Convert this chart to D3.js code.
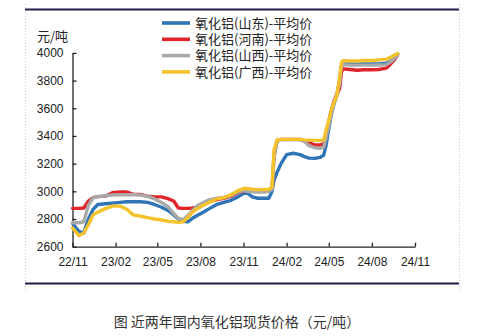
<!DOCTYPE html>
<html>
<head>
<meta charset="utf-8">
<script src="https://cdn.jsdelivr.net/npm/d3@7"></script>
<style>
  html, body { margin: 0; padding: 0; background: #fff; }
  svg { display: block; }
</style>
</head>
<body>
<svg id="chart" width="485" height="336"></svg>
<script>
// Sampled observation dates
const dates = [
  "2022-11-01","2022-11-15","2022-11-25","2022-12-05","2022-12-15","2022-12-25",
  "2023-01-10","2023-01-25","2023-02-10","2023-02-25","2023-03-10","2023-03-25",
  "2023-04-10","2023-04-25","2023-05-10","2023-05-25","2023-06-05","2023-06-15",
  "2023-06-25","2023-07-05","2023-07-15","2023-07-25","2023-08-05","2023-08-20",
  "2023-09-05","2023-09-20","2023-10-05","2023-10-20","2023-11-01","2023-11-10",
  "2023-11-20","2023-12-01","2023-12-15","2023-12-25","2024-01-01","2024-01-05",
  "2024-01-12","2024-01-20","2024-02-01","2024-02-15","2024-03-01","2024-03-10",
  "2024-03-20","2024-04-01","2024-04-12","2024-04-20","2024-04-25","2024-05-01",
  "2024-05-06","2024-05-12","2024-05-18","2024-05-24","2024-05-28","2024-06-01",
  "2024-06-15","2024-07-01","2024-07-15","2024-08-01","2024-08-15","2024-09-01",
  "2024-09-10","2024-09-18","2024-09-25"
];

// Average alumina spot price by region (元/吨)
const shandong = [
  2769,2710,2700,2800,2870,2905,2910,2915,2920,2925,
  2925,2925,2920,2905,2885,2860,2830,2800,2783,2780,
  2805,2825,2845,2875,2905,2920,2935,2960,2985,2985,
  2960,2950,2950,2950,3000,3080,3140,3200,3265,3275,
  3265,3250,3240,3238,3245,3260,3330,3450,3550,3630,
  3690,3800,3900,3920,3920,3920,3920,3920,3920,3925,
  3940,3965,3990
];
const henan = [
  2877,2877,2880,2930,2955,2962,2965,2990,2995,2995,
  2980,2978,2965,2960,2960,2945,2930,2880,2877,2877,
  2880,2885,2905,2925,2940,2950,2965,2990,3004,3005,
  3000,3000,3000,3005,3020,3250,3370,3375,3375,3375,
  3375,3365,3350,3335,3335,3340,3400,3500,3580,3650,
  3700,3740,3860,3885,3880,3875,3878,3878,3880,3890,
  3920,3950,3990
];
const shanxi = [
  2773,2773,2780,2900,2955,2962,2968,2973,2975,2975,
  2975,2973,2965,2945,2920,2885,2840,2805,2795,2825,
  2860,2895,2915,2938,2950,2955,2970,2995,3005,3000,
  2997,2995,2995,3000,3015,3250,3368,3372,3372,3372,
  3372,3360,3330,3315,3310,3320,3380,3470,3560,3640,
  3690,3780,3900,3915,3912,3912,3912,3912,3913,3915,
  3935,3960,3990
];
const guangxi = [
  2735,2680,2700,2760,2830,2850,2875,2893,2893,2870,
  2830,2822,2810,2800,2793,2783,2780,2776,2780,2810,
  2850,2875,2895,2922,2945,2955,2975,3005,3020,3020,
  3015,3012,3012,3015,3030,3300,3372,3375,3375,3375,
  3375,3372,3370,3368,3368,3370,3440,3510,3580,3640,
  3690,3820,3930,3945,3942,3942,3945,3945,3950,3955,
  3968,3985,3995
];

const seriesNames = ["氧化铝(山东)-平均价","氧化铝(河南)-平均价","氧化铝(山西)-平均价","氧化铝(广西)-平均价"];
const seriesColors = ["#2f75b5","#e0242a","#a9a9a9","#f4c22b"];
const seriesValues = [shandong, henan, shanxi, guangxi];

const xTicks = ["2022-11-01","2023-02-01","2023-05-01","2023-08-01","2023-11-01","2024-02-01","2024-05-01","2024-08-01","2024-11-01"];
const yTicks = [2600, 2800, 3000, 3200, 3400, 3600, 3800, 4000];
const unitLabel = "元/吨";
const caption = "图 近两年国内氧化铝现货价格（元/吨）";

const parse = d3.timeParse("%Y-%m-%d");
const svg = d3.select("#chart");
const font = "'Liberation Sans', Arial, sans-serif";
const cjk = "'Noto Sans CJK SC', sans-serif";

// Frame: dotted side borders and dark top/bottom rules
svg.selectAll("line.side").data([25.5, 459.5]).join("line")
  .attr("x1", d => d).attr("x2", d => d).attr("y1", 4).attr("y2", 290)
  .attr("stroke", "#c8c8c8").attr("stroke-width", 1).attr("stroke-dasharray", "1,2");
svg.selectAll("line.rule").data([9.5, 283.5]).join("line")
  .attr("x1", 25).attr("x2", 459).attr("y1", d => d).attr("y2", d => d)
  .attr("stroke", "#1f1f4d").attr("stroke-width", 2.2);

const x = d3.scaleTime()
  .domain([parse("2022-11-01"), parse("2024-11-01")])
  .range([72.5, 415]);
const y = d3.scaleLinear().domain([2600, 4000]).range([246.7, 52.9]);

// Axes with inward ticks
const yAxis = svg.append("g").attr("transform", "translate(72.5,0)")
  .call(d3.axisLeft(y).tickValues(yTicks).tickSizeInner(-4).tickSizeOuter(0).tickPadding(9).tickFormat(d3.format("d")));
const xAxis = svg.append("g").attr("transform", "translate(0,246.7)")
  .call(d3.axisBottom(x).tickValues(xTicks.map(parse)).tickSizeInner(-4).tickSizeOuter(0).tickPadding(11).tickFormat(d3.timeFormat("%y/%m")));
[yAxis, xAxis].forEach(g => {
  g.select(".domain").attr("stroke", "#222").attr("stroke-width", 1.3);
  g.selectAll(".tick line").attr("stroke", "#222").attr("stroke-width", 1.3);
  g.selectAll(".tick text").attr("fill", "#222").style("font-family", font).style("font-size", "12px");
});

svg.append("text").attr("x", 37).attr("y", 41)
  .style("font-family", cjk).style("font-size", "13px").attr("fill", "#222")
  .text(unitLabel);

// Price lines
const line = d3.line()
  .x((d, i) => x(parse(dates[i])))
  .y(d => y(d));
svg.selectAll("path.series").data(seriesValues).join("path")
  .attr("class", "series")
  .attr("d", line)
  .attr("fill", "none")
  .attr("stroke", (d, i) => seriesColors[i])
  .attr("stroke-width", 3.4)
  .attr("stroke-linejoin", "round")
  .attr("stroke-linecap", "round");

// Legend: swatches plus one multi-line text block
const legendX = 162, legendY = 23, legendStep = 16.3;
svg.selectAll("line.swatch").data(seriesNames).join("line")
  .attr("class", "swatch")
  .attr("x1", legendX).attr("x2", legendX + 28)
  .attr("y1", (d, i) => legendY + i * legendStep).attr("y2", (d, i) => legendY + i * legendStep)
  .attr("stroke", (d, i) => seriesColors[i]).attr("stroke-width", 3.6);
svg.append("text")
  .style("font-family", cjk).style("font-size", "13px").attr("fill", "#222")
  .selectAll("tspan").data(seriesNames).join("tspan")
  .attr("x", legendX + 33)
  .attr("y", (d, i) => legendY + 4.6 + i * legendStep)
  .text(d => d);

svg.append("text").attr("x", 237).attr("y", 327)
  .attr("text-anchor", "middle")
  .style("font-family", cjk).style("font-size", "14px").attr("fill", "#333")
  .text(caption);
</script>
</body>
</html>
